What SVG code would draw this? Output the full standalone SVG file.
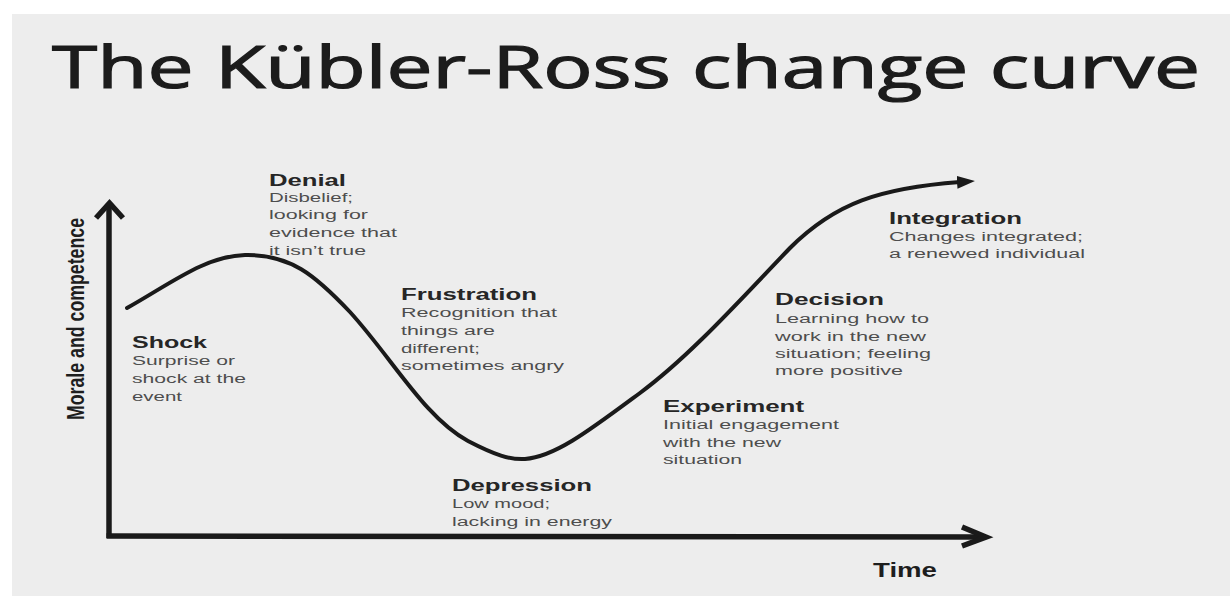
<svg xmlns="http://www.w3.org/2000/svg" width="1230" height="600" viewBox="0 0 1230 600">
  <defs>
    <style>
      .title { font-family: "Open Sans", "Liberation Sans", sans-serif; font-size: 58px; fill: #1c1c1c; stroke: #1c1c1c; stroke-width: 1.2; }
      .head { font-family: "Liberation Sans", Arial, sans-serif; font-weight: bold; font-size: 16px; fill: #262626; }
      .body { font-family: "Liberation Sans", Arial, sans-serif; font-size: 12.5px; fill: #4d4d4d; }
      .axis-label { font-family: "Liberation Sans Narrow", "Liberation Sans", Arial, sans-serif; font-weight: bold; fill: #1e1e1e; }
      .axis { fill: none; stroke: #1a1a1a; stroke-width: 5.5; stroke-linecap: butt; stroke-linejoin: miter; }
      .curve { fill: none; stroke: #1a1a1a; stroke-width: 4; stroke-linecap: round; stroke-linejoin: round; }
    </style>
    <marker id="curve-head" markerUnits="userSpaceOnUse" markerWidth="22" markerHeight="14" viewBox="0 -7 22 14" refX="3" refY="0" orient="auto">
      <path d="M0,-6.5 L18,0 L0,6.5 Z" fill="#1a1a1a"/>
    </marker>
  </defs>

  <!-- page -->
  <rect x="0" y="0" width="1230" height="600" fill="#ffffff"/>
  <rect x="12" y="14" width="1218" height="582" fill="#ededed"/>

  <g id="title">
    <text class="title" x="52" y="88" textLength="1148" lengthAdjust="spacingAndGlyphs">The Kübler-Ross change curve</text>
  </g>

  <!-- axes and the change curve -->
  <g id="connectors">
    <line class="axis" x1="109" y1="538" x2="109" y2="205"/>
    <polyline class="axis" points="96,218 109.5,203 123,218"/>
    <line class="axis" x1="106.5" y1="536" x2="985" y2="537"/>
    <polyline class="axis" points="962,527 986,537 962,546"/>
    <path class="curve" marker-end="url(#curve-head)" d="M127,308 C170,284 205,256 245,255 C290,254 315,275 350,312 C392,358 425,418 468,441 C495,455 510,460 525,459 C555,457 590,430 640,393 C690,356 740,300 790,248 C835,203 880,188 960,182"/>
  </g>

  <g id="axis-y-label">
    <text class="axis-label" font-size="24" transform="translate(84,420) rotate(-90)" x="0" y="0" textLength="202" lengthAdjust="spacingAndGlyphs">Morale and competence</text>
  </g>
  <g id="axis-x-label">
    <text class="axis-label" font-size="19.5" x="873" y="577" textLength="64" lengthAdjust="spacingAndGlyphs">Time</text>
  </g>

  <g id="shock">
    <text class="head" x="132" y="348" textLength="75" lengthAdjust="spacingAndGlyphs">Shock</text>
    <text class="body" x="132" y="365" textLength="103" lengthAdjust="spacingAndGlyphs">Surprise or</text>
    <text class="body" x="132" y="383" textLength="114" lengthAdjust="spacingAndGlyphs">shock at the</text>
    <text class="body" x="132" y="401" textLength="50" lengthAdjust="spacingAndGlyphs">event</text>
  </g>

  <g id="denial">
    <text class="head" x="269" y="186" textLength="77" lengthAdjust="spacingAndGlyphs">Denial</text>
    <text class="body" x="269" y="202" textLength="84" lengthAdjust="spacingAndGlyphs">Disbelief;</text>
    <text class="body" x="269" y="219" textLength="99" lengthAdjust="spacingAndGlyphs">looking for</text>
    <text class="body" x="269" y="237" textLength="128" lengthAdjust="spacingAndGlyphs">evidence that</text>
    <text class="body" x="269" y="255" textLength="97" lengthAdjust="spacingAndGlyphs">it isn’t true</text>
  </g>

  <g id="frustration">
    <text class="head" x="401" y="300" textLength="136" lengthAdjust="spacingAndGlyphs">Frustration</text>
    <text class="body" x="401" y="317" textLength="156" lengthAdjust="spacingAndGlyphs">Recognition that</text>
    <text class="body" x="401" y="335" textLength="94" lengthAdjust="spacingAndGlyphs">things are</text>
    <text class="body" x="401" y="353" textLength="79" lengthAdjust="spacingAndGlyphs">different;</text>
    <text class="body" x="401" y="370" textLength="163" lengthAdjust="spacingAndGlyphs">sometimes angry</text>
  </g>

  <g id="depression">
    <text class="head" x="452" y="491" textLength="140" lengthAdjust="spacingAndGlyphs">Depression</text>
    <text class="body" x="452" y="508" textLength="98" lengthAdjust="spacingAndGlyphs">Low mood;</text>
    <text class="body" x="452" y="526" textLength="160" lengthAdjust="spacingAndGlyphs">lacking in energy</text>
  </g>

  <g id="experiment">
    <text class="head" x="663" y="412" textLength="141" lengthAdjust="spacingAndGlyphs">Experiment</text>
    <text class="body" x="663" y="429" textLength="176" lengthAdjust="spacingAndGlyphs">Initial engagement</text>
    <text class="body" x="663" y="447" textLength="118" lengthAdjust="spacingAndGlyphs">with the new</text>
    <text class="body" x="663" y="464" textLength="79" lengthAdjust="spacingAndGlyphs">situation</text>
  </g>

  <g id="decision">
    <text class="head" x="775" y="305" textLength="109" lengthAdjust="spacingAndGlyphs">Decision</text>
    <text class="body" x="775" y="323" textLength="154" lengthAdjust="spacingAndGlyphs">Learning how to</text>
    <text class="body" x="775" y="341" textLength="151" lengthAdjust="spacingAndGlyphs">work in the new</text>
    <text class="body" x="775" y="358" textLength="156" lengthAdjust="spacingAndGlyphs">situation; feeling</text>
    <text class="body" x="775" y="375" textLength="128" lengthAdjust="spacingAndGlyphs">more positive</text>
  </g>

  <g id="integration">
    <text class="head" x="889" y="224" textLength="133" lengthAdjust="spacingAndGlyphs">Integration</text>
    <text class="body" x="889" y="241" textLength="194" lengthAdjust="spacingAndGlyphs">Changes integrated;</text>
    <text class="body" x="889" y="258" textLength="196" lengthAdjust="spacingAndGlyphs">a renewed individual</text>
  </g>
</svg>
